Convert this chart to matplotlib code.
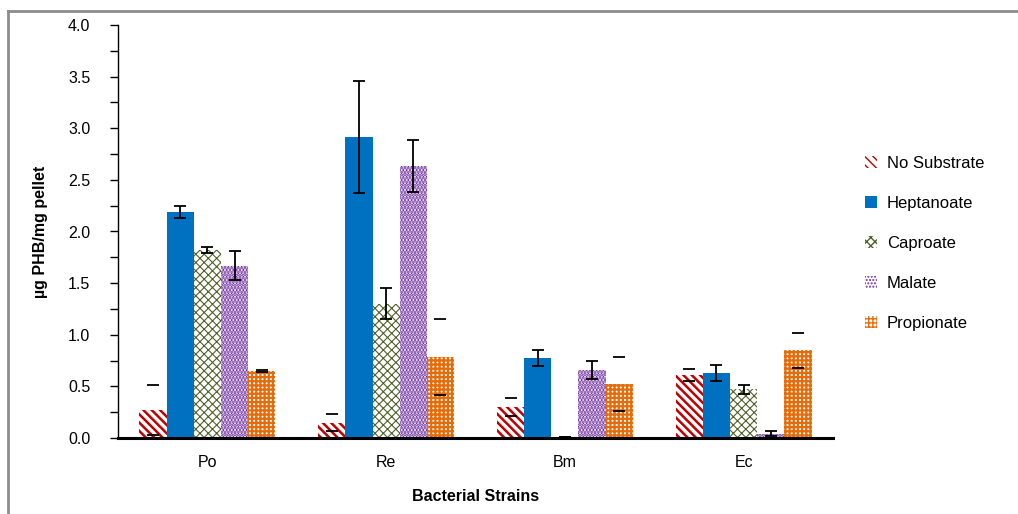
import matplotlib
matplotlib.use("Agg")
import matplotlib.pyplot as plt
import numpy as np
from matplotlib.patches import Patch
from matplotlib.lines import Line2D

plt.rcParams['font.family'] = ['Liberation Sans', 'DejaVu Sans']

# Data
strains = ["Po", "Re", "Bm", "Ec"]
substrates = ["No Substrate", "Heptanoate", "Caproate", "Malate", "Propionate"]

no_substrate = [0.27, 0.15, 0.30, 0.61]
heptanoate = [2.19, 2.915, 0.775, 0.63]
caproate = [1.82, 1.30, 0.01, 0.47]
malate = [1.67, 2.635, 0.66, 0.04]
propionate = [0.65, 0.785, 0.52, 0.85]

no_substrate_err = [0.24, 0.08, 0.09, 0.06]
heptanoate_err = [0.06, 0.54, 0.075, 0.08]
caproate_err = [0.03, 0.15, 0.0, 0.04]
malate_err = [0.14, 0.25, 0.09, 0.025]
propionate_err = [0.01, 0.37, 0.26, 0.17]

values = [no_substrate, heptanoate, caproate, malate, propionate]
errors = [no_substrate_err, heptanoate_err, caproate_err, malate_err, propionate_err]

styles = [
    dict(facecolor="white", edgecolor="#C00000", hatch="\\\\\\\\", hlw=1.8),
    dict(facecolor="#0070C0", edgecolor="#0070C0", hatch=None, hlw=1.0),
    dict(facecolor="white", edgecolor="#4F6228", hatch="xxxx", hlw=0.8),
    dict(facecolor="white", edgecolor="#7030A0", hatch=".....", hlw=2.0),
    dict(facecolor="white", edgecolor="#E46C0A", hatch="++++", hlw=1.6),
]
show_stem = [False, True, True, True, False]

W, H = 1018, 514
fig = plt.figure(figsize=(W / 100, H / 100), dpi=100)
ax = fig.add_axes([118 / W, (H - 438) / H, (833 - 118) / W, (438 - 25) / H])

x = np.arange(len(strains))
bw = 0.152
offsets = (np.arange(len(substrates)) - 2) * bw

handles = []
for i, name in enumerate(substrates):
    st = styles[i]
    with plt.rc_context({"hatch.linewidth": st["hlw"]}):
        ax.bar(x + offsets[i], values[i], width=bw, facecolor=st["facecolor"],
               edgecolor=st["edgecolor"], hatch=st["hatch"], linewidth=0,
               label=name, zorder=2)
        handles.append(Patch(facecolor=st["facecolor"], edgecolor=st["edgecolor"],
                             hatch=st["hatch"], linewidth=0))
    eb = ax.errorbar(x + offsets[i], values[i], yerr=errors[i], fmt="none",
                     ecolor="black", elinewidth=1.3, capsize=4.3, capthick=1.3,
                     zorder=3)
    if not show_stem[i]:
        for col in eb[2]:
            col.set_visible(False)

ax.set_xlim(-0.5, 3.5)
ax.set_ylim(0, 4.0)
ax.set_yticks(np.arange(0, 4.01, 0.5))
ax.set_yticks(np.arange(0, 4.01, 0.25), minor=True)
ax.yaxis.set_major_formatter(matplotlib.ticker.FormatStrFormatter("%.1f"))
ax.set_xticks(x)
ax.set_xticklabels(strains)
ax.tick_params(axis="y", which="both", direction="out", length=6, width=1,
               labelsize=11.5, pad=14, colors="black")
ax.tick_params(axis="x", length=0, labelsize=11.5, pad=12)

for s in ["top", "right"]:
    ax.spines[s].set_visible(False)
ax.spines["left"].set_linewidth(1)
ax.spines["bottom"].set_linewidth(2.2)

ax.set_ylabel("µg PHB/mg pellet", fontsize=11.5, fontweight="bold", labelpad=14)
ax.set_xlabel("Bacterial Strains", fontsize=11.5, fontweight="bold", labelpad=14)

fig.legend(handles, substrates, loc="upper left",
           bbox_to_anchor=(850 / W, 1 - 141 / H), frameon=False,
           fontsize=12, handlelength=0.7, handleheight=0.7,
           handletextpad=0.6, labelspacing=1.5)

# outer frame lines
fig.add_artist(Line2D([8 / W, 8 / W], [0, 1 - 11 / H], color="#8C8C8C", lw=2))
fig.add_artist(Line2D([8 / W, 1], [1 - 11 / H, 1 - 11 / H], color="#8C8C8C", lw=2))

fig.savefig("out.png", dpi=100)
